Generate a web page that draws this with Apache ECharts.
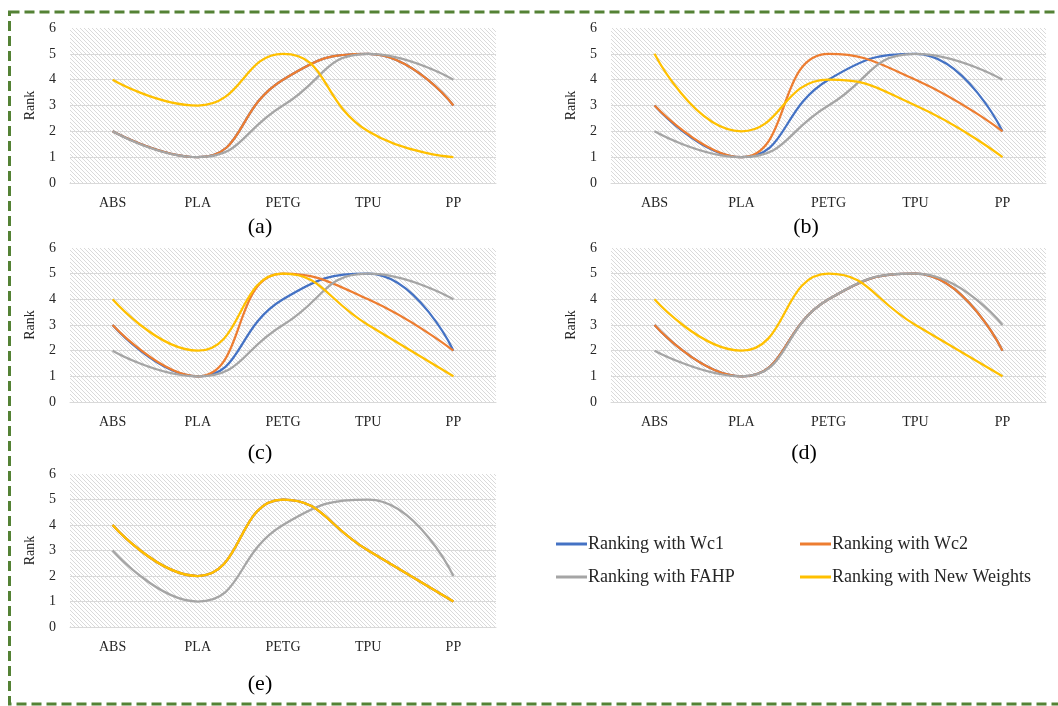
<!DOCTYPE html>
<html>
<head>
<meta charset="utf-8">
<script src="https://cdn.jsdelivr.net/npm/echarts@6/dist/echarts.min.js"></script>
<style>html,body{margin:0;padding:0;background:#fff;}#c{width:1058px;height:706px;}</style>
</head>
<body>
<div id="c"></div>
<script>
const categories = ['ABS', 'PLA', 'PETG', 'TPU', 'PP'];
const yTicks = [0, 1, 2, 3, 4, 5, 6];
const seriesNames = ['Ranking with Wc1', 'Ranking with Wc2', 'Ranking with FAHP', 'Ranking with New Weights'];
const panelLabels = ['(a)', '(b)', '(c)', '(d)', '(e)'];

const a_wc1 = [2, 1, 4, 5, 3];
const a_wc2 = [2, 1, 4, 5, 3];
const a_fahp = [2, 1, 3, 5, 4];
const a_new = [4, 3, 5, 2, 1];

const b_wc1 = [3, 1, 4, 5, 2];
const b_wc2 = [3, 1, 5, 4, 2];
const b_fahp = [2, 1, 3, 5, 4];
const b_new = [5, 2, 4, 3, 1];

const c_wc1 = [3, 1, 4, 5, 2];
const c_wc2 = [3, 1, 5, 4, 2];
const c_fahp = [2, 1, 3, 5, 4];
const c_new = [4, 2, 5, 3, 1];

const d_wc1 = [3, 1, 4, 5, 2];
const d_wc2 = [3, 1, 4, 5, 2];
const d_fahp = [2, 1, 4, 5, 3];
const d_new = [4, 2, 5, 3, 1];

const e_wc1 = [4, 2, 5, 3, 1];
const e_wc2 = [4, 2, 5, 3, 1];
const e_fahp = [3, 1, 4, 5, 2];
const e_new = [4, 2, 5, 3, 1];

const panels = [
  [a_wc1, a_wc2, a_fahp, a_new],
  [b_wc1, b_wc2, b_fahp, b_new],
  [c_wc1, c_wc2, c_fahp, c_new],
  [d_wc1, d_wc2, d_fahp, d_new],
  [e_wc1, e_wc2, e_fahp, e_new]
];

const colors = ['#4472C4', '#ED7D31', '#A5A5A5', '#FFC000'];
const FONT = '"Liberation Serif", "Times New Roman", serif';

// hatch pattern
const pc = document.createElement('canvas');
pc.width = 4; pc.height = 4;
const g = pc.getContext('2d');
g.fillStyle = '#ffffff';
g.fillRect(0, 0, 4, 4);
g.strokeStyle = '#dadada';
g.lineWidth = 1;
for (let k = -4; k <= 4; k += 4) {
  g.beginPath();
  g.moveTo(k, 0);
  g.lineTo(k + 4, 4);
  g.stroke();
}

const gridPos = [
  { left: 70, top: 28, width: 426, height: 155 },
  { left: 611, top: 28, width: 435, height: 155 },
  { left: 70, top: 248, width: 426, height: 154 },
  { left: 611, top: 248, width: 435, height: 154 },
  { left: 70, top: 474, width: 426, height: 153 }
];
const labelPos = [[260, 227], [806, 227], [260, 453], [804, 453], [260, 684]];

const grids = [], xAxes = [], yAxes = [], series = [];
gridPos.forEach((p, i) => {
  grids.push(Object.assign({
    show: true, borderWidth: 0,
    backgroundColor: { image: pc, repeat: 'repeat' }
  }, p));
  xAxes.push({
    type: 'category', gridIndex: i, data: categories, boundaryGap: true,
    axisTick: { show: false },
    axisLine: { lineStyle: { color: '#d9d9d9', width: 1 } },
    axisLabel: { fontFamily: FONT, fontSize: 14, color: '#262626', margin: 13 }
  });
  yAxes.push({
    type: 'value', gridIndex: i, min: yTicks[0], max: yTicks[yTicks.length - 1], interval: 1,
    name: 'Rank', nameLocation: 'middle', nameGap: 33,
    nameTextStyle: { fontFamily: FONT, fontSize: 14, color: '#262626' },
    axisLine: { show: false }, axisTick: { show: false },
    axisLabel: { fontFamily: FONT, fontSize: 14, color: '#262626', margin: 14 },
    splitLine: { show: true, lineStyle: { color: ['rgba(0,0,0,0)', '#d9d9d9', '#d9d9d9', '#d9d9d9', '#d9d9d9', '#d9d9d9', 'rgba(0,0,0,0)'], width: 1 } }
  });
  panels[i].forEach((vals, j) => {
    series.push({
      name: seriesNames[j], type: 'line', xAxisIndex: i, yAxisIndex: i,
      data: vals, smooth: 0.5, symbol: 'none',
      lineStyle: { color: colors[j], width: 2.25 },
      itemStyle: { color: colors[j] }
    });
  });
});

const graphics = panelLabels.map((t, i) => ({
  type: 'text', x: labelPos[i][0], y: labelPos[i][1],
  style: { text: t, fontFamily: FONT, fontSize: 22, fill: '#000', textAlign: 'center', textVerticalAlign: 'middle' }
}));
graphics.push({
  type: 'rect', shape: { x: 9.5, y: 12, width: 1080, height: 692 },
  style: { fill: 'none', stroke: '#548235', lineWidth: 3, lineDash: [10, 5] }, z: 100
});

const legendCommon = {
  orient: 'vertical', icon: 'rect', itemWidth: 31, itemHeight: 3, itemGap: 15,
  textStyle: { fontFamily: FONT, fontSize: 18, color: '#262626', padding: [0, 0, 0, -4] },
  selectedMode: false
};

const chart = echarts.init(document.getElementById('c'), null, { renderer: 'canvas' });
chart.setOption({
  animation: false,
  backgroundColor: '#ffffff',
  grid: grids, xAxis: xAxes, yAxis: yAxes, series: series,
  legend: [
    Object.assign({ left: 551, top: 530, data: [seriesNames[0], seriesNames[2]] }, legendCommon),
    Object.assign({ left: 795, top: 530, data: [seriesNames[1], seriesNames[3]] }, legendCommon)
  ],
  graphic: graphics
});
</script>
</body>
</html>
